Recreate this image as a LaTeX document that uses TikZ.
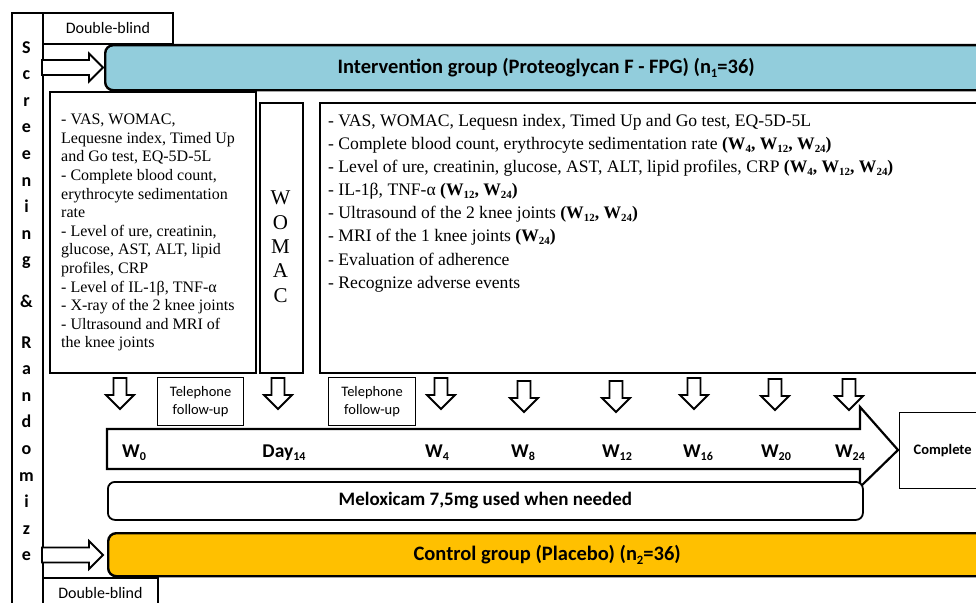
\documentclass[tikz,border=0pt]{standalone}
\usepackage{fontspec}
\setmainfont{Liberation Serif}
\newfontfamily\calib{Carlito}
\newcommand\subsc[1]{\raisebox{-0.35ex}{\scalebox{0.62}{#1}}}
\definecolor{intervcol}{HTML}{92CDDC}
\definecolor{ctrlcol}{HTML}{FFC000}
\newcommand\darrow[2]{%
  \filldraw[blockarrow] ({#1-6.5},#2) -- ({#1+6.5},#2) -- ({#1+6.5},{#2+17}) -- ({#1+14},{#2+17})
    -- (#1,{#2+31}) -- ({#1-14},{#2+17}) -- ({#1-6.5},{#2+17}) -- cycle;}
\newcommand\rarrow[1]{%
  \filldraw[blockarrow] (42,{#1-7.5}) -- (89,{#1-7.5}) -- (89,{#1-14}) -- (103,#1)
    -- (89,{#1+14}) -- (89,{#1+7.5}) -- (42,{#1+7.5}) -- cycle;}
\begin{document}
\begin{tikzpicture}[x=1pt,y=-1pt,line join=miter,
  box/.style={draw=black,line width=1.8pt,fill=white,inner sep=0pt,anchor=north west},
  thinbox/.style={box,line width=1.2pt},
  blockarrow/.style={draw=black,fill=white,line width=1.8pt},
  scrletter/.style={font=\calib\bfseries\fontsize{18}{20}\selectfont,inner sep=0pt},
  sanstext/.style={font=\calib\fontsize{16}{19}\selectfont},
  grouptext/.style={font=\calib\bfseries\fontsize{20.5}{24}\selectfont},
  weeklbl/.style={font=\calib\bfseries\fontsize{19.5}{22}\selectfont,inner sep=0pt,anchor=base},
  listtext/.style={anchor=north west,align=left,inner sep=0pt}]
\clip (0,0) rectangle (976,602);
\fill[white] (0,0) rectangle (976,602);

% Screening & Randomize bar
\node[box,line width=2pt,minimum width=31pt,minimum height=640pt] (scr) at (11,12) {};
\foreach \ch/\yy [count=\i] in {S/53,c/79.6,r/106.2,e/132.8,e/159.4,n/186,i/212.6,n/239.2,g/265.8,\&/307,R/348,a/374.6,n/401.2,d/427.8,o/454.4,m/481,i/507.6,z/534.2,e/560.8}
  \node[scrletter,anchor=base] (sl\i) at (26.5,\yy) {\ch};

% Double-blind (top)
\node[box,sanstext,minimum width=130pt,minimum height=31pt] (dbtop) at (42,12) {Double-blind};

% Intervention group bar
\node[box,fill=intervcol,line width=2.4pt,rounded corners=8pt,minimum width=882pt,minimum height=45pt,grouptext] (interv) at (104,44) {Intervention group (Proteoglycan F - FPG) (n\subsc{1}=36)};
\rarrow{67.5}

% Baseline assessment box
\node[box,minimum width=206pt,minimum height=281pt] (lbox) at (49,91) {};
\node[listtext,font=\fontsize{16}{18.6}\selectfont] (ltext) at (61,114) {%
- VAS, WOMAC,\\
Lequesne index, Timed Up\\
and Go test, EQ-5D-5L\\
- Complete blood count,\\
erythrocyte sedimentation\\
rate\\
- Level of ure, creatinin,\\
glucose, AST, ALT, lipid\\
profiles, CRP\\
- Level of IL-1β, TNF-α\\
- X-ray of the 2 knee joints\\
- Ultrasound and MRI of\\
the knee joints};

% WOMAC box
\node[box,minimum width=43pt,minimum height=270pt] (wbox) at (259,102) {};
\node[anchor=north,align=center,inner sep=0pt,font=\fontsize{21}{24.3}\selectfont] (wtext) at (280.5,191) {W\\O\\M\\A\\C};

% Follow-up assessment box
\node[box,minimum width=700pt,minimum height=270pt] (rbox) at (319,102) {};
\node[listtext,font=\fontsize{17.6}{23.1}\selectfont] (rtext) at (328,114) {%
- VAS, WOMAC, Lequesn index, Timed Up and Go test, EQ-5D-5L\\
- Complete blood count, erythrocyte sedimentation rate \textbf{(W\subsc{4}, W\subsc{12}, W\subsc{24})}\\
- Level of ure, creatinin, glucose, AST, ALT, lipid profiles, CRP \textbf{(W\subsc{4}, W\subsc{12}, W\subsc{24})}\\
- IL-1β, TNF-α \textbf{(W\subsc{12}, W\subsc{24})}\\
- Ultrasound of the 2 knee joints \textbf{(W\subsc{12}, W\subsc{24})}\\
- MRI of the 1 knee joints \textbf{(W\subsc{24})}\\
- Evaluation of adherence\\
- Recognize adverse events};

% Telephone follow-up boxes
\node[thinbox,align=center,minimum width=86pt,minimum height=48pt,font=\calib\fontsize{14.5}{17.5}\selectfont] (tel1) at (157,377) {Telephone\\follow-up};
\node[thinbox,align=center,minimum width=87pt,minimum height=48pt,font=\calib\fontsize{14.5}{17.5}\selectfont] (tel2) at (328,377) {Telephone\\follow-up};

% Timeline arrow
\filldraw[blockarrow,line width=2.2pt] (107,429) -- (860,429) -- (860,407) -- (898,450) -- (860,487) -- (860,469) -- (107,469) -- cycle;
\node[weeklbl] (w0) at (134,457) {W\subsc{0}};
\node[weeklbl] (d14) at (284,457) {Day\subsc{14}};
\node[weeklbl] (w4) at (437,457) {W\subsc{4}};
\node[weeklbl] (w8) at (523,457) {W\subsc{8}};
\node[weeklbl] (w12) at (617,457) {W\subsc{12}};
\node[weeklbl] (w16) at (698,457) {W\subsc{16}};
\node[weeklbl] (w20) at (776,457) {W\subsc{20}};
\node[weeklbl] (w24) at (850,457) {W\subsc{24}};

% Down arrows
\darrow{120}{378}
\darrow{278}{378}
\darrow{441}{378}
\darrow{524}{381}
\darrow{616}{381}
\darrow{694}{378}
\darrow{775}{379}
\darrow{849}{379}

% Complete
\node[thinbox,minimum width=86pt,minimum height=76pt,font=\calib\bfseries\fontsize{14.5}{17}\selectfont] (complete) at (899,412) {Complete};

% Meloxicam
\node[box,rounded corners=7pt,minimum width=755pt,minimum height=38pt,font=\calib\bfseries\fontsize{19}{22}\selectfont] (melox) at (107,481) {Meloxicam 7,5mg used when needed};

% Control group bar
\node[box,fill=ctrlcol,line width=2.4pt,rounded corners=8pt,minimum width=878pt,minimum height=43pt,grouptext] (ctrl) at (107,532) {Control group (Placebo) (n\subsc{2}=36)};
\rarrow{555}

% Double-blind (bottom)
\node[box,sanstext,minimum width=115pt,minimum height=31pt] (dbbot) at (42,577) {Double-blind};
\end{tikzpicture}
\end{document}
